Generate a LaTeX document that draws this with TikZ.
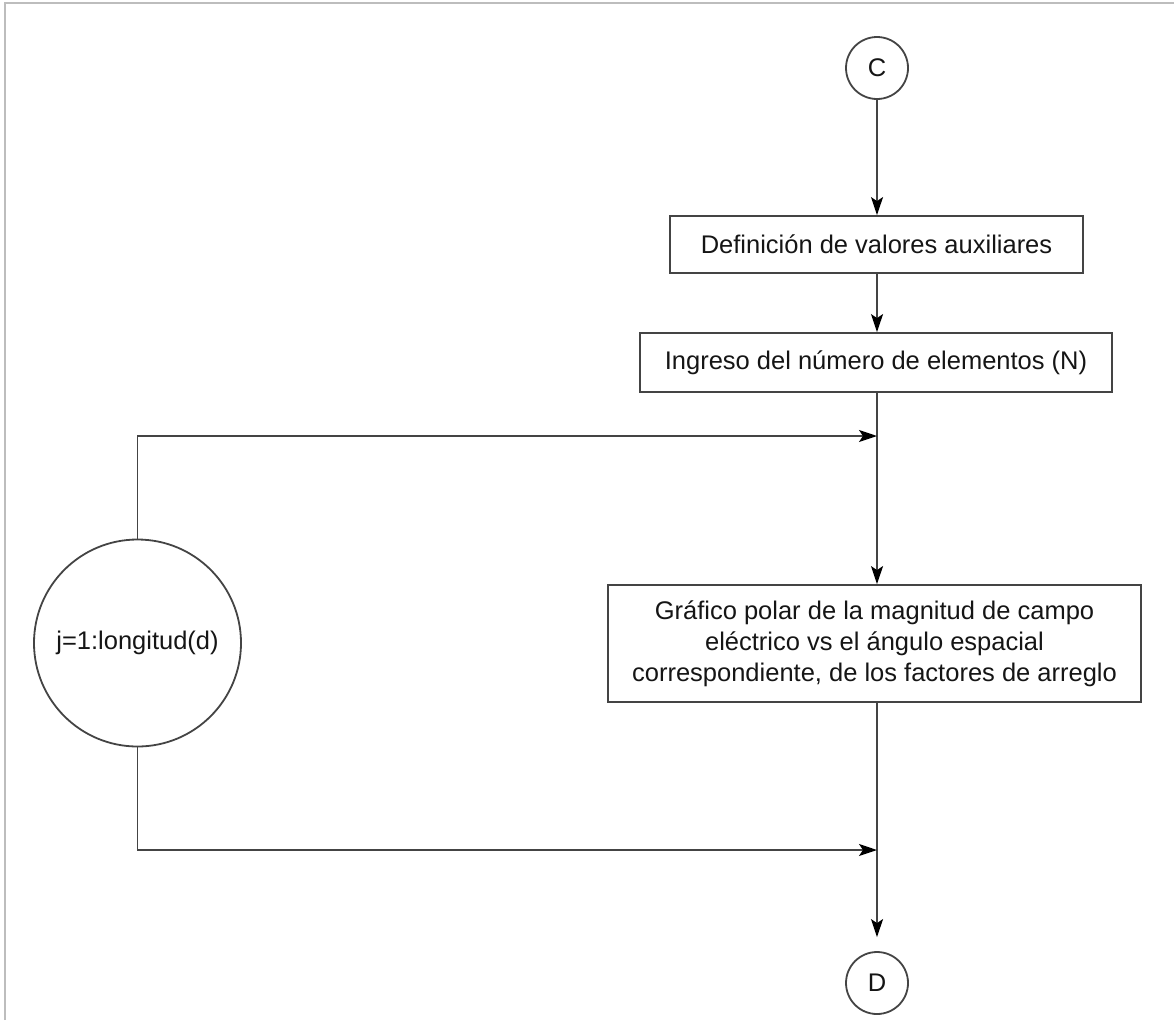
\documentclass[tikz,border=0pt]{standalone}
\usepackage{fontspec}
\setmainfont{Liberation Sans}
\usetikzlibrary{arrows.meta,calc}
\definecolor{ink}{HTML}{151515}
\definecolor{edge}{HTML}{444444}
\definecolor{frame}{HTML}{BDBDBD}
\tikzset{
  box/.style={draw=edge, line width=1.8pt, rectangle, inner sep=0pt, align=center,
              text=ink, font=\fontsize{25.5}{31}\selectfont},
  conn/.style={draw=edge, line width=1.8pt, fill=none},
  ring/.style={draw=edge, line width=1.8pt, circle, inner sep=0pt, text=ink,
               font=\fontsize{25.5}{31}\selectfont},
  flow/.style={conn, -{Stealth[length=18pt,width=12pt,inset=4pt,color=black]}},
}
\begin{document}
\begin{tikzpicture}[x=1pt,y=-1pt]
  \useasboundingbox (0,0) rectangle (1174,1020);
  % window frame
  \draw[frame, line width=2pt] (5,1020) -- (5,3) -- (1174,3);

  % flow nodes
  \node[ring, minimum size=62pt] (c) at (877,68) {C};
  \node[box, minimum width=413pt, minimum height=57pt] (aux) at (876.5,244.5)
    {Definición de valores auxiliares};
  \node[box, minimum width=472pt, minimum height=59pt] (num) at (876,362.5)
    {Ingreso del número de elementos (N)};
  \node[box, minimum width=533pt, minimum height=117pt] (plot) at (874.5,643.5)
    {Gráfico polar de la magnitud de campo\\eléctrico vs el ángulo espacial\\correspondiente, de los factores de arreglo};
  \node[ring, minimum size=207pt] (loop) at (137.5,643) {j=1:longitud(d)};
  \node[ring, minimum size=62pt] (d) at (877,983) {D};

  % junctions on the main line
  \coordinate (jin) at (877,436);
  \coordinate (jout) at (877,850);

  % main sequence
  \draw[flow] (c) -- (aux.north -| c);
  \draw[flow] (aux.south -| c) -- (num.north -| c);
  \draw[flow] (num.south -| c) -- (plot.north -| c);
  \draw[flow] (plot.south -| c) -- ($(d.north)+(0,-14)$);

  % loop connectors
  \draw[flow] (loop.north) |- (jin);
  \draw[flow] (loop.south) |- (jout);
\end{tikzpicture}
\end{document}
